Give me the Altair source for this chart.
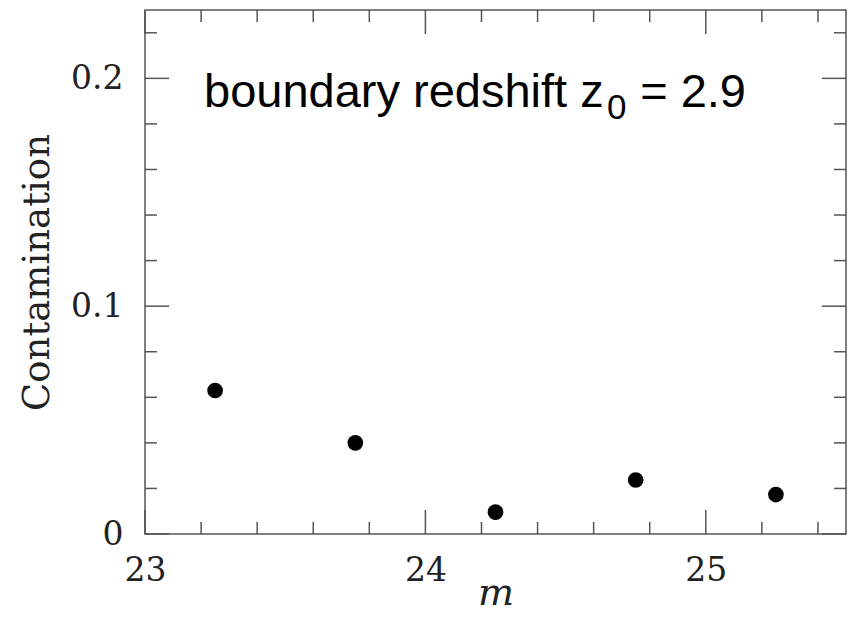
import altair as alt
import pandas as pd

# Contamination measured in magnitude bins
m_values = [23.25, 23.75, 24.25, 24.75, 25.25]
contamination = [0.063, 0.040, 0.0096, 0.0237, 0.0173]

# Tick positions
x_major = [23.0, 24.0, 25.0]
x_minor = [23.2, 23.4, 23.6, 23.8, 24.2, 24.4, 24.6, 24.8, 25.2, 25.4]
y_major = [0.0, 0.1, 0.2]
y_minor = [0.02, 0.04, 0.06, 0.08, 0.12, 0.14, 0.16, 0.18, 0.22]

W, H = 701, 524
FRAME = "#555555"
SERIF = "DejaVu Serif"

xs = alt.Scale(domain=[23, 25.5], nice=False, zero=False)
ys = alt.Scale(domain=[0, 0.23], nice=False, zero=False)

points = pd.DataFrame({"m": m_values, "c": contamination})

base = alt.Chart(points).mark_circle(size=245, color="black", opacity=1).encode(
    x=alt.X(
        "m:Q",
        scale=xs,
        axis=alt.Axis(
            values=x_major,
            format="d",
            ticks=False,
            domain=False,
            grid=False,
            labelFont=SERIF,
            labelFontSize=33,
            labelColor="#222",
            labelBaseline="alphabetic",
            labelPadding=46,
            labelFlush=False,
            title="m",
            titleFont=SERIF,
            titleFontStyle="italic",
            titleFontWeight="normal",
            titleFontSize=38,
            titleColor="#222",
            titleBaseline="alphabetic",
            titleY=70,
        ),
    ),
    y=alt.Y(
        "c:Q",
        scale=ys,
        axis=alt.Axis(
            values=y_major,
            labelExpr="datum.value == 0 ? '0' : format(datum.value, '.1f')",
            ticks=False,
            domain=False,
            grid=False,
            labelFont=SERIF,
            labelFontSize=33,
            labelColor="#222",
            labelBaseline="middle",
            labelPadding=22,
            labelFlush=False,
            title="Contamination",
            titleFont=SERIF,
            titleFontWeight="normal",
            titleFontSize=37,
            titleColor="#222",
            titleAngle=-90,
            titleBaseline="middle",
            titleX=-108,
            titleY=H / 2,
        ),
    ),
)


def hticks(values, length, side):
    df = pd.DataFrame({"v": values})
    if side == "bottom":
        y0, y1 = H, H - length
    else:
        y0, y1 = 0, length
    return alt.Chart(df).mark_rule(color=FRAME, strokeWidth=1.5).encode(
        x=alt.X("v:Q", scale=xs), y=alt.value(y0), y2=alt.value(y1)
    )


def vticks(values, length, side):
    df = pd.DataFrame({"v": values})
    if side == "left":
        x0, x1 = 0, length
    else:
        x0, x1 = W, W - length
    return alt.Chart(df).mark_rule(color=FRAME, strokeWidth=1.5).encode(
        y=alt.Y("v:Q", scale=ys), x=alt.value(x0), x2=alt.value(x1)
    )


ticks = [
    hticks(x_major, 24, "bottom"), hticks(x_minor, 12, "bottom"),
    hticks(x_major, 24, "top"), hticks(x_minor, 12, "top"),
    vticks(y_major, 24, "left"), vticks(y_minor, 12, "left"),
    vticks(y_major, 24, "right"), vticks(y_minor, 12, "right"),
]

label_df = pd.DataFrame({"t": ["boundary redshift z"]})
main_text = alt.Chart(label_df).mark_text(
    font="Liberation Sans", fontSize=47, align="left", baseline="alphabetic", color="black"
).encode(text="t:N", x=alt.value(59), y=alt.value(97))

sub_df = pd.DataFrame({"t": ["0"]})
sub_text = alt.Chart(sub_df).mark_text(
    font="Liberation Sans", fontSize=35, align="left", baseline="alphabetic", color="black"
).encode(text="t:N", x=alt.value(462), y=alt.value(109))

val_df = pd.DataFrame({"t": ["= 2.9"]})
val_text = alt.Chart(val_df).mark_text(
    font="Liberation Sans", fontSize=47, align="right", baseline="alphabetic", color="black"
).encode(text="t:N", x=alt.value(601), y=alt.value(97))

chart = alt.layer(base, *ticks, main_text, sub_text, val_text).properties(
    width=W,
    height=H,
    autosize=alt.AutoSizeParams(type="none"),
    padding={"left": 145, "top": 10, "right": 5, "bottom": 87},
    background="white",
).configure_view(stroke=FRAME, strokeWidth=1.5)

chart.save("out.html", embed_options={"renderer": "svg", "actions": False})
